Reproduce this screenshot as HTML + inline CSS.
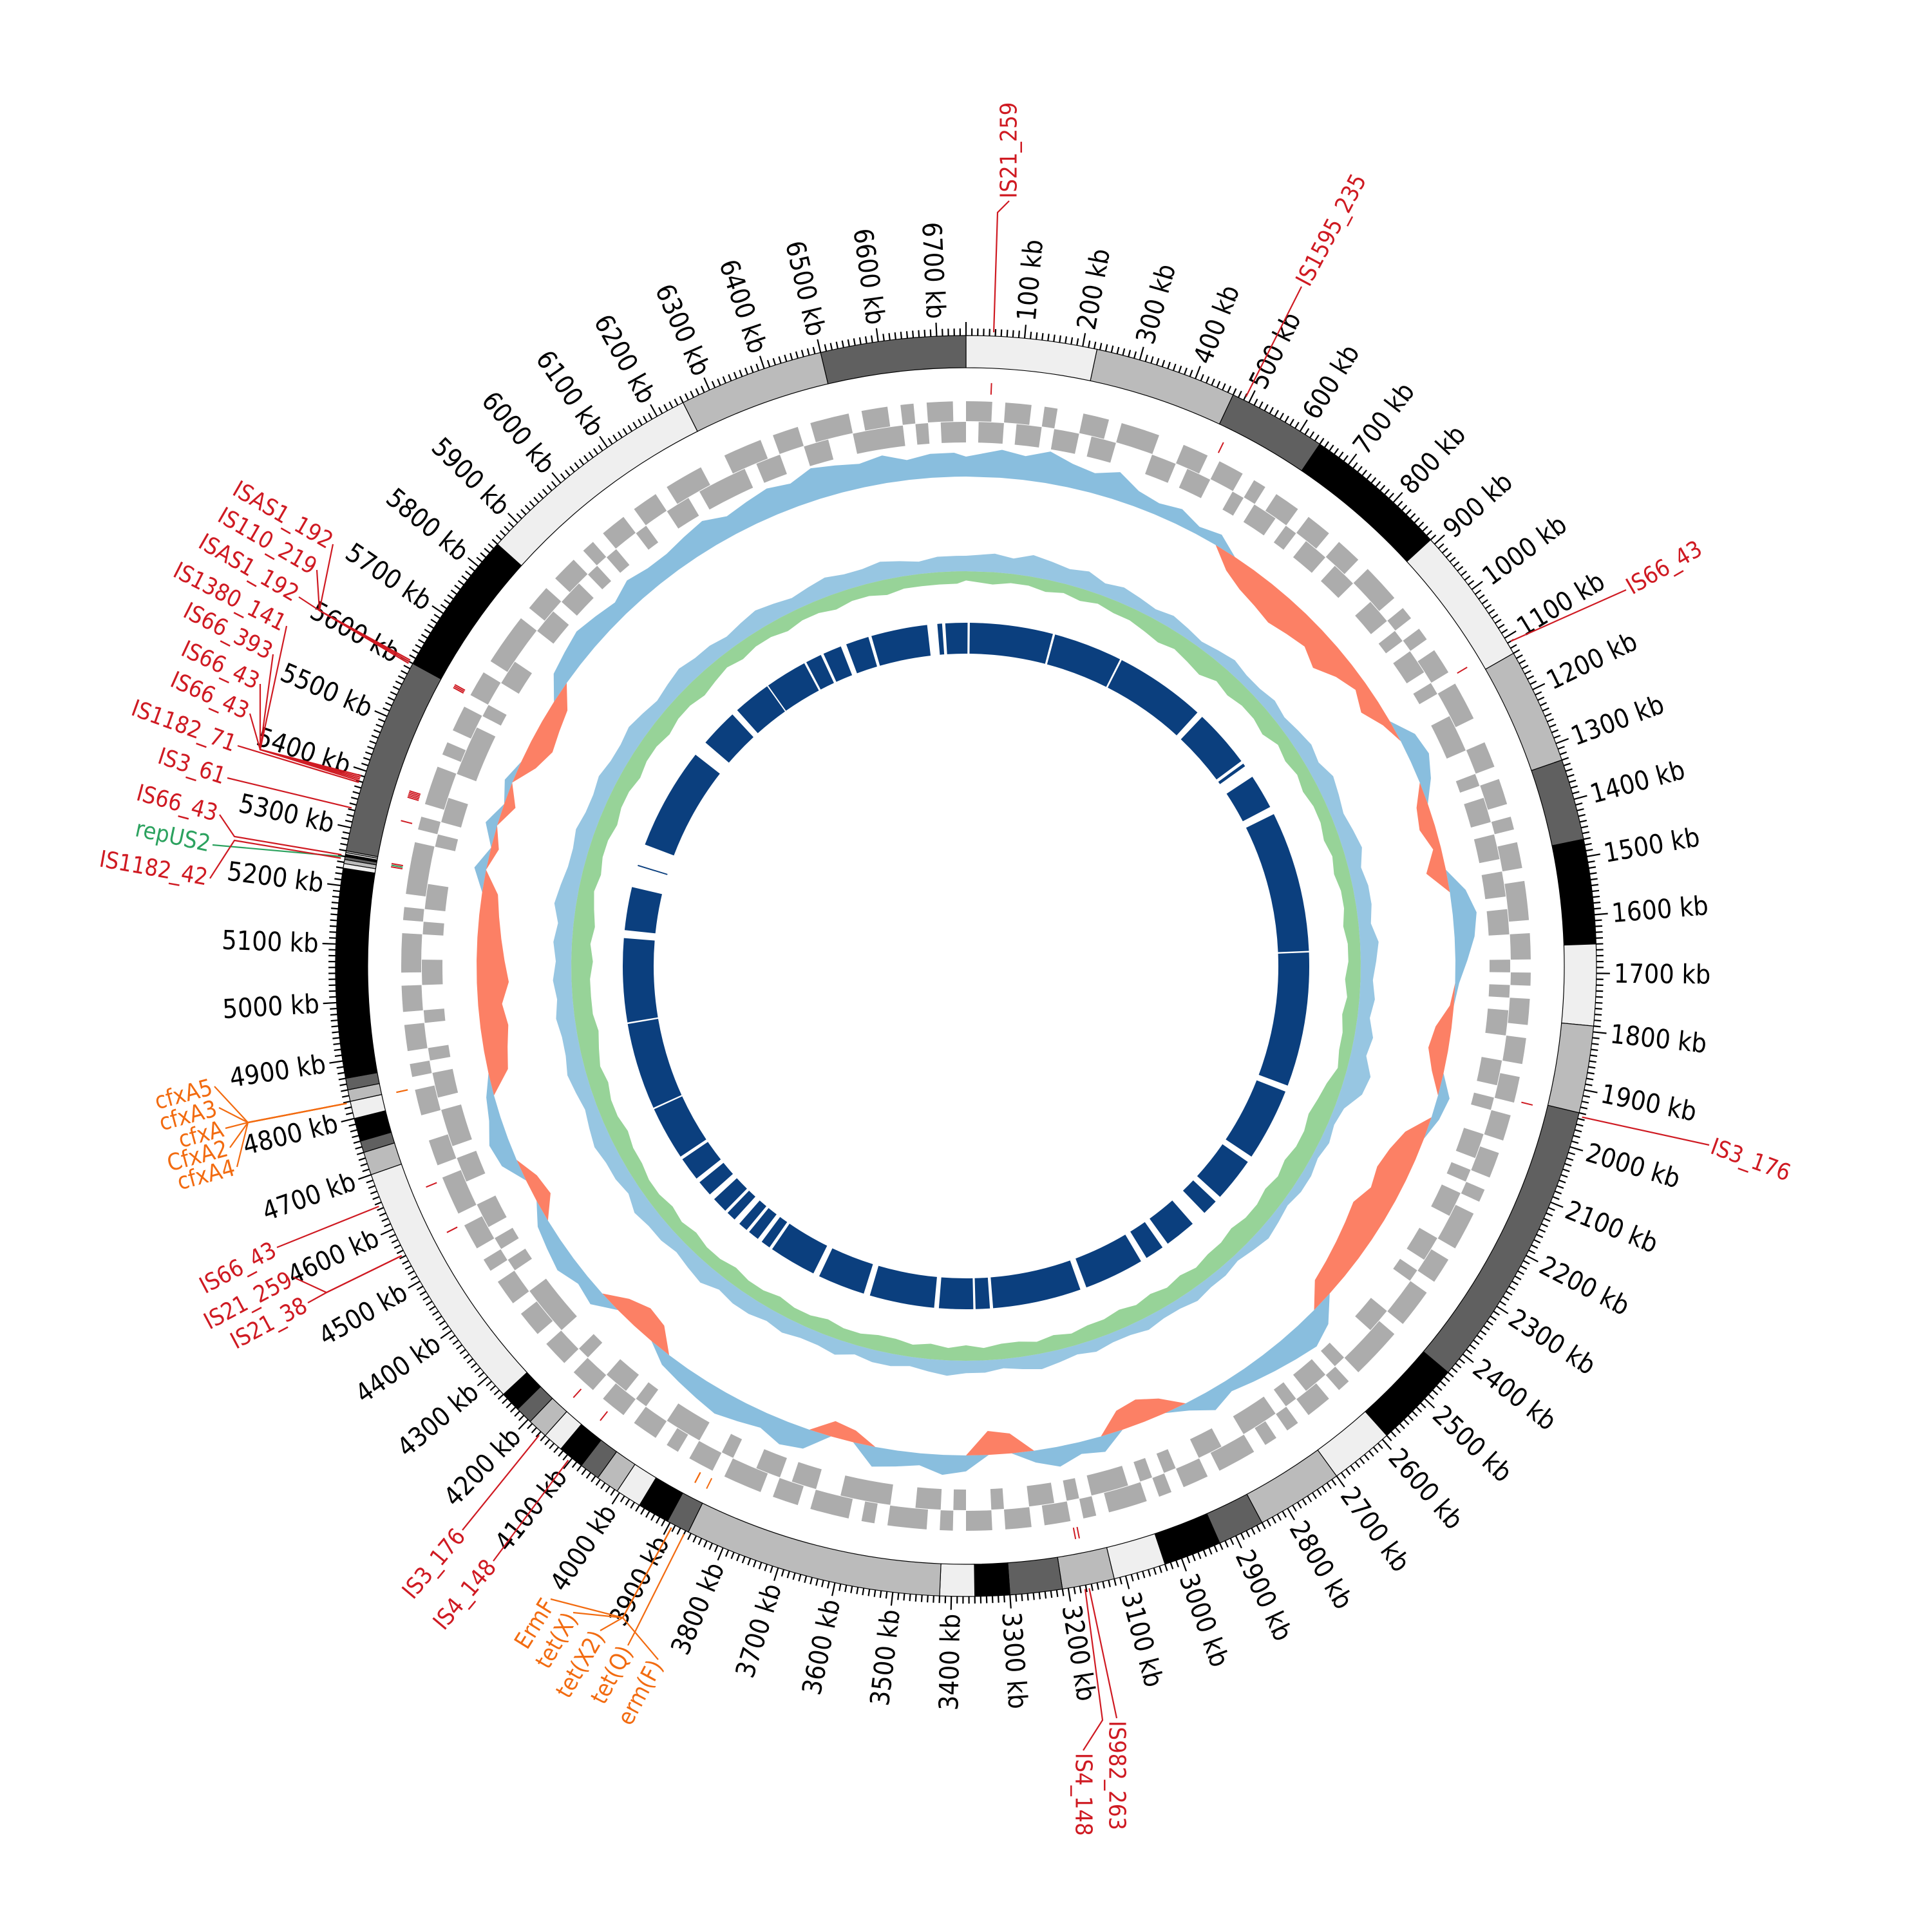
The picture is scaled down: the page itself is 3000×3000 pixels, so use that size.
<!DOCTYPE html>
<html><head><meta charset="utf-8"><title>Circular genome map</title>
<style>
html,body{margin:0;padding:0;background:#fff;}
svg{display:block;}
text{font-family:"DejaVu Sans Condensed","DejaVu Sans","Liberation Sans",sans-serif;}
</style></head>
<body>
<svg id="chart" xmlns="http://www.w3.org/2000/svg" width="3000" height="3000" viewBox="0 0 3000 3000">
<rect x="0" y="0" width="3000" height="3000" fill="#fff"/>
<g id="g-contig"></g>
<g id="g-ticks"></g>
<g id="g-ticklabels"></g>
<g id="g-genes"></g>
<g id="g-gc"></g>
<g id="g-skew"></g>
<g id="g-blast"></g>
<g id="g-anno"></g>
</svg>
<script>
// ---------- data ----------
const genomeLengthKb = 6750;
const contigStarts = [0,225,470,640,890,1130,1330,1470,1650,1790,1940,2440,2590,2700,2850,2930,3030,3120,3210,3300,3360,3420,3865,3905,3960,4005,4045,4080,4125,4160,4195,4225,4260,4700,4740,4760,4800,4830,4850,4870,5230,5238,5245,5250,5254,5257,5260,5600,5850,6250,6500];
const contigPalette = ['#efefef','#bbbbbb','#606060','#000000'];
const fwdGenes = "1101101001"+"1011100110"+"1101011011"+"0110111010"+"1011011100"+"1101101011"+"0111011010"+"1101101101"+"1011010111"+"0110111011"+"1101011010"+"1011101101"+"0111010110"+"1101101011"+"1010111011"+"0111011010"+"1101101101"+"1011011010"+"1101110110"+"0110101101"+"1011101011"+"1101011101"+"0110110111"+"1011011010"+"1101101110"+"0111011011"+"1011010110";
const revGenes = "0110110110"+"1100011011"+"0010110101"+"1011001101"+"0110100111"+"0010110110"+"1101100101"+"0110011010"+"0110101100"+"1101000110"+"0010110101"+"1100110010"+"1011101011"+"0010010110"+"0111100110"+"1100100111"+"0010110010"+"0111100101"+"0110011011"+"1011010010"+"0110010110"+"0010110011"+"1101001100"+"0110110101"+"0010011011"+"1101100110"+"0111101011";
const gcValues = [.5,.7,.6,.8,.6,.5,.7,.4, .3,.4,.2,.3, -.4,-.6,-.7,-.8,-.7,-.6,-.8,-.5, -.3,-.5,-.2, .4,.5,.3, -.3,-.4,-.2,-.5, .4,.6,.5,.3, .1,-.1, -.4,-.5,-.3, .3,.2, -.5,-.7,-.8,-.7,-.9,-.8,-.7,-.6,-.5, .5,.7,.6,.5, .4,.3,.5,.2, -.4,-.6,-.5, .4,.3,.5,.3, -.5,-.6, .4,.5,.3,.4,.5, -.3,-.4, .5,.6,.4,.5,.6,.5,.4,.3, -.5,-.6,-.4, .4,.3,.5,.4,.3, -.4,-.3, .4,.5,.3,.2, -.5,-.6,-.7,-.6,-.8,-.7,-.6,-.5,-.4, .3,-.2,.3,-.3,.2, -.4,-.6,-.5,-.4, .4,.5,.6,.5,.4,.6,.5,.5, .6,.7,.5,.6,.7,.6,.8,.7,.6,.7,.5,.6,.6];
const skewPos = [.5,.6,.5,.7,.6,.5,.6,.4,.5,.4, .3,.4,.3,.2,.3,.4,.3,.3,.4,.3, .4,.5,.4,.6,.5,.4,.5,.6,.4,.5,.5,.4,.6,.5,.4,.5,.4,.6,.5,.8, .7,.3,.2,.3,.2,.3,.3,.2,.3,.4,.3,.2,.3,.3,.4,.3,.3,.4,.3,.3, .4,.3,.4,.5,.4,.3,.4,.4,.5,.4,.3,.4,.4,.3,.5,.4,.4,.5,.4,.5, .5,.4,.6,.5,.4,.5,.5,.6,.4,.5,.5,.6,.5,.4,.5,.6,.5,.5,.6,.5, .6,.5,.6,.5,.7,.6,.5,.5,.6,.5,.5,.6,.5,.5,.6,.5,.4,.5,.6,.5, .5,.4,.5,.6,.5,.4,.5,.6,.5,.5,.6,.5,.4,.5,.5];
const skewNeg = [.3,.4,.3,.3,.4,.3,.4,.3,.4,.4, .5,.6,.5,.6,.7,.5,.6,.5,.5,.6, .4,.5,.4,.5,.4,.4,.5,.4,.5,.4,.4,.5,.4,.4,.5,.4,.5,.4,.4,.3, .5,.6,.7,.6,.6,.7,.6,.7,.6,.6,.7,.6,.6,.5,.6,.5,.6,.5,.6,.5, .5,.4,.5,.4,.5,.5,.4,.5,.4,.5,.4,.5,.5,.4,.4,.5,.4,.4,.5,.4, .4,.5,.4,.4,.5,.4,.5,.4,.4,.5,.5,.6,.5,.5,.6,.5,.6,.7,.6,.6, .6,.7,.6,.7,.6,.5,.6,.5,.5,.6,.5,.5,.6,.5,.5,.6,.5,.5,.6,.5, .4,.5,.4,.4,.5,.4,.4,.5,.4,.4,.5,.4,.4,.4,.4];
const blastStarts = [0,12,282,506,815,1010,1060,1195,1645,2090,2340,2500,2600,2720,2800,3010,3300,3352,3475,3700,3870,4030,4075,4120,4170,4210,4280,4345,4430,4605,4885,5175,5380,5451,5824,5966,6090,6230,6290,6367,6450,6660,6685];
const blastEnds   = [5,275,500,795,1000,1020,1170,1640,2070,2320,2480,2550,2700,2780,2990,3290,3345,3460,3680,3850,4020,4060,4110,4150,4200,4260,4330,4420,4600,4880,5150,5312,5384,5775,5946,6086,6223,6281,6349,6440,6628,6675,6750];

// ---------- geometry ----------
const CX=1500, CY=1500;
const NS="http://www.w3.org/2000/svg";
function ang(kb){return kb/genomeLengthKb*2*Math.PI;}
function P(kb,r){const a=ang(kb);return [CX+r*Math.sin(a), CY-r*Math.cos(a)];}
function f(n){return n.toFixed(2);}
function sector(k1,k2,r1,r2){
  const large=((k2-k1)/genomeLengthKb>0.5)?1:0;
  const a=P(k1,r2),b=P(k2,r2),c=P(k2,r1),d=P(k1,r1);
  return "M"+f(a[0])+","+f(a[1])+" A"+r2+","+r2+" 0 "+large+" 1 "+f(b[0])+","+f(b[1])+" L"+f(c[0])+","+f(c[1])+" A"+r1+","+r1+" 0 "+large+" 0 "+f(d[0])+","+f(d[1])+" Z";
}
function mk(tag,parent){const e=document.createElementNS(NS,tag);parent.appendChild(e);return e;}

const gC=document.getElementById('g-contig');
for(let i=0;i<contigStarts.length;i++){
  const s=contigStarts[i], e=(i+1<contigStarts.length)?contigStarts[i+1]:genomeLengthKb;
  const p=mk('path',gC);
  p.setAttribute('d',sector(s,e,929,979));
  p.setAttribute('fill',contigPalette[i%4]);
  p.setAttribute('stroke','#000');p.setAttribute('stroke-width','1.2');
  
  
}

const gT=document.getElementById('g-ticks');
let td="";
for(let k=0;k<genomeLengthKb;k+=10){
  const major=(k%100===0);
  const a=P(k,979),b=P(k,major?1000:990);
  td+="M"+f(a[0])+","+f(a[1])+"L"+f(b[0])+","+f(b[1]);
}
const tp=mk('path',gT);tp.setAttribute('d',td);tp.setAttribute('stroke','#000');tp.setAttribute('stroke-width','2.2');



const gL=document.getElementById('g-ticklabels');
for(let k=100;k<genomeLengthKb;k+=100){
  const deg=k/genomeLengthKb*360;
  const p=P(k,1006);
  const t=mk('text',gL);
  t.textContent=k+" kb";
  t.setAttribute('x',f(p[0]));t.setAttribute('y',f(p[1]));
  t.setAttribute('font-size','41');t.setAttribute('dominant-baseline','central');
  if(deg<180){t.setAttribute('text-anchor','start');t.setAttribute('transform','rotate('+f(deg-90)+' '+f(p[0])+' '+f(p[1])+')');}
  else{t.setAttribute('text-anchor','end');t.setAttribute('transform','rotate('+f(deg+90)+' '+f(p[0])+' '+f(p[1])+')');}
  
  
}

const gG=document.getElementById('g-genes');
function geneRow(str,r1,r2,name){
  let d="";
  for(let i=0;i<str.length;i++){
    if(str[i]==='1'){
      let j=i;while(j+1<str.length&&str[j+1]==='1')j++;
      d+=sector(i*25,Math.min((j+1)*25,genomeLengthKb),r1,r2)+" ";
      i=j;
    }
  }
  const p=mk('path',gG);p.setAttribute('d',d);p.setAttribute('fill','#acacac');
  
  
}
geneRow(fwdGenes,846,877,'forward-strand-genes');
geneRow(revGenes,813,845,'reverse-strand-genes');

function areaPath(vals,base,amp,sign){
  const n=vals.length,step=genomeLengthKb/n;
  let outer=[],inner=[];
  for(let i=0;i<=n;i++){
    const v=vals[i%n];
    const vv=sign>0?Math.max(v,0):Math.min(v,0);
    const k=(i===n)?genomeLengthKb:i*step+step/2*(i===0?0:1);
    outer.push(P(k,base+vv*amp));inner.push(P(k,base));
  }
  let d="M"+outer.map(q=>f(q[0])+","+f(q[1])).join(" L");
  d+=" L"+inner.reverse().map(q=>f(q[0])+","+f(q[1])).join(" L")+" Z";
  return d;
}
const gGC=document.getElementById('g-gc');
const gcP=mk('path',gGC);gcP.setAttribute('d',areaPath(gcValues,760,62,1));gcP.setAttribute('fill','#6baed6');gcP.setAttribute('fill-opacity','0.8');


const gcN=mk('path',gGC);gcN.setAttribute('d',areaPath(gcValues,760,62,-1));gcN.setAttribute('fill','#fb6a4a');gcN.setAttribute('fill-opacity','0.85');



const gS=document.getElementById('g-skew');
const skP=mk('path',gS);skP.setAttribute('d',areaPath(skewPos,613,48,1));skP.setAttribute('fill','#6baed6');skP.setAttribute('fill-opacity','0.7');


const negVals=skewNeg.map(v=>-v);
const skN=mk('path',gS);skN.setAttribute('d',areaPath(negVals,613,48,-1));skN.setAttribute('fill','#74c476');skN.setAttribute('fill-opacity','0.75');



const gB=document.getElementById('g-blast');
for(let i=0;i<blastStarts.length;i++){
  const p=mk('path',gB);
  p.setAttribute('d',sector(blastStarts[i],blastEnds[i],485,533));
  p.setAttribute('fill','#0b3f7e');
  
  
}

const R='#cf1a22', O='#f26b10', G='#2ca25f';
const annos=[
 {t:'IS21_259',k:47,x:1567,y:312,rot:-90,a:'start',c:R,j:[1549,330]},
 {t:'IS1595_235',k:491,x:2021,y:445,rot:-62,a:'start',c:R,j:null},
 {t:'IS66_43',k:1110,x:2525,y:916,rot:-30,a:'start',c:R,j:null},
 {t:'IS3_176',k:1946,x:2654,y:1778,rot:20,a:'start',c:R,j:null},
 {t:'IS982_263',k:3165,x:1734,y:2668,rot:90,a:'start',c:R,j:null},
 {t:'IS4_148',k:3172,x:1682,y:2718,rot:90,a:'start',c:R,j:[1712,2671]},
 {t:'IS3_176',k:4168,x:718,y:2376,rot:-50,a:'end',c:R,j:null},
 {t:'IS4_148',k:4103,x:766,y:2424,rot:-50,a:'end',c:R,j:null},
 {t:'IS66_43',k:4645,x:430,y:1937,rot:-28,a:'end',c:R,j:null},
 {t:'IS21_259',k:4553,x:455,y:1983,rot:-28,a:'end',c:R,j:[507,2007]},
 {t:'IS21_38',k:4553,x:478,y:2023,rot:-28,a:'end',c:R,j:[507,2007]},
 {t:'cfxA5',k:4828,x:333,y:1687,rot:-15,a:'end',c:O,j:[385,1743]},
 {t:'cfxA3',k:4828,x:340,y:1720,rot:-15,a:'end',c:O,j:[385,1743]},
 {t:'cfxA',k:4828,x:350,y:1752,rot:-15,a:'end',c:O,j:[385,1743]},
 {t:'CfxA2',k:4828,x:357,y:1782,rot:-15,a:'end',c:O,j:[385,1743]},
 {t:'cfxA4',k:4828,x:368,y:1812,rot:-15,a:'end',c:O,j:[385,1743]},
 {t:'IS66_43',k:5252,x:341,y:1265,rot:15,a:'end',c:R,j:[364,1299]},
 {t:'repUS2',k:5249,x:330,y:1312,rot:12,a:'end',c:G,j:null},
 {t:'IS1182_42',k:5246,x:326,y:1364,rot:10,a:'end',c:R,j:[364,1305]},
 {t:'ISAS1_192',k:5603,x:517,y:845,rot:30,a:'end',c:R,j:[496,948]},
 {t:'IS110_219',k:5600,x:492,y:885,rot:30,a:'end',c:R,j:[496,948]},
 {t:'ISAS1_192',k:5597,x:464,y:927,rot:30,a:'end',c:R,j:[496,948]},
 {t:'IS1380_141',k:5390,x:445,y:972,rot:27,a:'end',c:R,j:[404,1164]},
 {t:'IS66_393',k:5387,x:424,y:1016,rot:27,a:'end',c:R,j:[404,1164]},
 {t:'IS66_43',k:5384,x:404,y:1062,rot:25,a:'end',c:R,j:[404,1164]},
 {t:'IS66_43',k:5381,x:388,y:1108,rot:24,a:'end',c:R,j:[404,1164]},
 {t:'IS1182_71',k:5378,x:369,y:1158,rot:20,a:'end',c:R,j:null},
 {t:'IS3_61',k:5333,x:353,y:1208,rot:18,a:'end',c:R,j:null},
 {t:'ErmF',k:3894,x:855,y:2483,rot:-58,a:'end',c:O,j:[967,2512]},
 {t:'tet(X)',k:3894,x:890,y:2504,rot:-60,a:'end',c:O,j:[967,2512]},
 {t:'tet(X2)',k:3894,x:932,y:2532,rot:-60,a:'end',c:O,j:[967,2512]},
 {t:'tet(Q)',k:3870,x:975,y:2555,rot:-62,a:'end',c:O,j:[987,2532]},
 {t:'erm(F)',k:3894,x:1022,y:2577,rot:-62,a:'end',c:O,j:[967,2512]}
];
const gA=document.getElementById('g-anno');
annos.forEach(function(o){
  const r0=P(o.k,985);
  let pts=[r0];
  if(o.j)pts.push(o.j);
  pts.push([o.x,o.y]);
  const pl=mk('polyline',gA);
  pl.setAttribute('points',pts.map(q=>f(q[0])+","+f(q[1])).join(" "));
  pl.setAttribute('fill','none');pl.setAttribute('stroke',o.c);pl.setAttribute('stroke-width','2.2');
  
  
  const a=P(o.k,888),b=P(o.k,906);
  const dash=mk('line',gA);
  dash.setAttribute('x1',f(a[0]));dash.setAttribute('y1',f(a[1]));dash.setAttribute('x2',f(b[0]));dash.setAttribute('y2',f(b[1]));
  dash.setAttribute('stroke',o.c);dash.setAttribute('stroke-width','2');
  
  
  const t=mk('text',gA);
  t.textContent=o.t;
  const off=o.a==='start'?4:-4;
  t.setAttribute('x',f(o.x));t.setAttribute('y',f(o.y));t.setAttribute('dx',off);
  t.setAttribute('font-size','36');t.setAttribute('fill',o.c);
  t.setAttribute('text-anchor',o.a);t.setAttribute('dominant-baseline','central');
  t.setAttribute('transform','rotate('+o.rot+' '+f(o.x)+' '+f(o.y)+')');
  
  
});
</script>
</body></html>
